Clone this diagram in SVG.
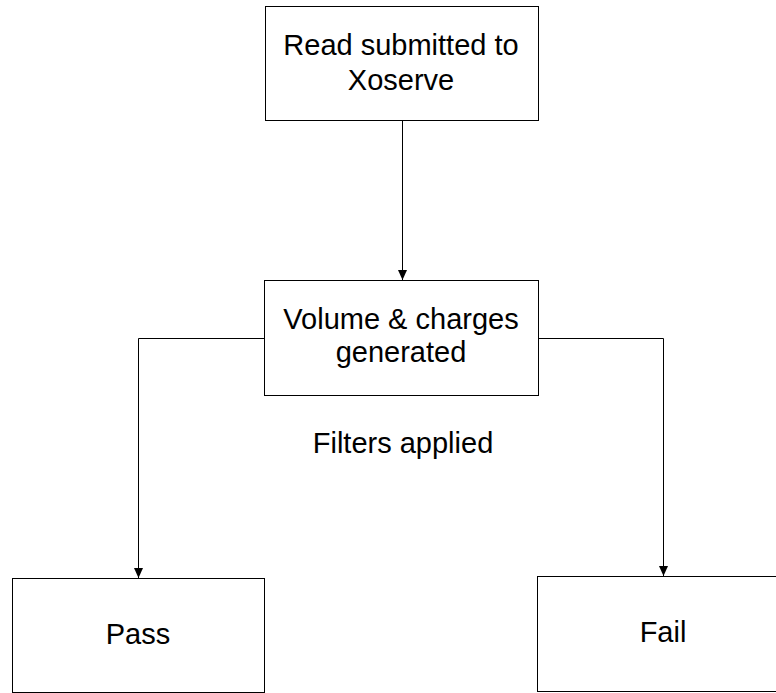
<svg xmlns="http://www.w3.org/2000/svg" width="776" height="693" viewBox="0 0 776 693">
<style>
.box{fill:#fff;stroke:#000;stroke-width:1}
.lbl{font-family:"Liberation Sans",Arial,sans-serif;font-size:29px;fill:#000;text-anchor:middle}
.con{fill:none;stroke:#000;stroke-width:1}
</style>
<defs>
<marker id="arr" markerWidth="10" markerHeight="10" refX="10" refY="4.5" orient="auto" markerUnits="userSpaceOnUse">
<path d="M0,0 L10,4.5 L0,9 Z" fill="#000"/>
</marker>
</defs>
<rect width="776" height="693" fill="#fff"/>
<g id="connectors">
<path class="con" d="M402.5,120.5 V280" marker-end="url(#arr)"/>
<path class="con" d="M264.5,338.5 H138.5 V578" marker-end="url(#arr)"/>
<path class="con" d="M538.5,338.5 H663.5 V576" marker-end="url(#arr)"/>
</g>
<g id="node-read">
<rect class="box" x="265.5" y="6.5" width="273" height="114"/>
<text class="lbl" x="401" y="55">Read submitted to</text>
<text class="lbl" x="401" y="90">Xoserve</text>
</g>
<g id="node-volume">
<rect class="box" x="264.5" y="280.5" width="274" height="115"/>
<text class="lbl" x="401" y="329">Volume &amp; charges</text>
<text class="lbl" x="401" y="362">generated</text>
</g>
<g id="label-filters">
<text class="lbl" x="403" y="453">Filters applied</text>
</g>
<g id="node-pass">
<rect class="box" x="12.5" y="578.5" width="252" height="114"/>
<text class="lbl" x="138" y="644">Pass</text>
</g>
<g id="node-fail">
<rect class="box" x="537.5" y="576.5" width="250" height="115"/>
<text class="lbl" x="663" y="642">Fail</text>
</g>
</svg>
